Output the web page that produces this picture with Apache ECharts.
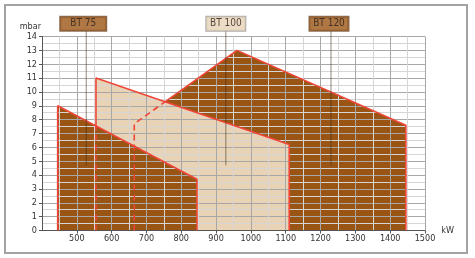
<!DOCTYPE html>
<html><head><meta charset="utf-8">
<script src="https://cdn.jsdelivr.net/npm/echarts@6/dist/echarts.min.js"></script>
<style>html,body{margin:0;padding:0;background:#fff}#c{width:475px;height:258px}</style>
</head><body><div id="c"></div>
<script>
// ---- data ----
const names = ['BT 75', 'BT 100', 'BT 120'];
const bt75 = [[445, 0], [445, 9], [845, 3.7], [845, 0]];
const bt100 = [[555, 0], [555, 11], [1110, 6.2], [1110, 0]];
const bt120 = [[665, 0], [665, 7.7], [960, 13], [1445, 7.6], [1445, 0]];
const pointerKw = [527, 928, 1230];
const pointerBottom = 4.7;
const pointerTop = 14.4;
const labelLevel = 14.92;
const xMin = 400, xMax = 1500, xStep = 100;
const yMin = 0, yMax = 14, yStep = 1;

// ---- helpers ----
function intersect(a, b, c, d) {
  const x1 = a[0], y1 = a[1], x2 = b[0], y2 = b[1], x3 = c[0], y3 = c[1], x4 = d[0], y4 = d[1];
  const den = (x1 - x2) * (y3 - y4) - (y1 - y2) * (x3 - x4);
  const t = ((x1 - x3) * (y3 - y4) - (y1 - y3) * (x3 - x4)) / den;
  return [x1 + t * (x2 - x1), y1 + t * (y2 - y1)];
}
const p1 = intersect(bt100[0], bt100[1], bt75[1], bt75[2]);
const p2 = intersect(bt120[1], bt120[2], bt100[1], bt100[2]);

const BROWN = '#9a5515', BEIGE = '#e9d3b7', RED = '#ef4638';
const FONT = '"Liberation Sans Narrow","DejaVu Sans Condensed","Liberation Sans",Arial,sans-serif';

function fill(data, color, z) {
  return { type: 'line', data: data, symbol: 'none', z: z, silent: true,
    lineStyle: { width: 0 }, areaStyle: { color: color, opacity: 1 } };
}
function outline(data, dashed) {
  return { type: 'line', data: data, symbol: 'none', z: 5, silent: true, clip: false,
    lineStyle: { color: RED, width: 1.6, type: dashed ? [6, 4] : 'solid' } };
}

const series = [
  fill(bt120, BROWN, 1),
  fill(bt100, BEIGE, 2),
  fill(bt75, BROWN, 3),
  outline(bt75, false),
  outline([bt100[0], p1], true),
  outline([p1, bt100[1], bt100[2], bt100[3]], false),
  outline([bt120[0], bt120[1], p2], true),
  outline([p2, bt120[2], bt120[3], bt120[4]], false)
];
pointerKw.forEach(function (kw) {
  series.push({ type: 'line', data: [[kw, pointerBottom], [kw, pointerTop]], symbol: 'none',
    z: 6, clip: false, silent: true, lineStyle: { color: 'rgba(60,40,20,0.55)', width: 1 } });
});
const boxStyles = [
  { bg: BROWN, border: '#6e4a2e', w: 46, off: -3 },
  { bg: BEIGE, border: '#9a9a9a', w: 39, off: 0 },
  { bg: BROWN, border: '#6e4a2e', w: 39, off: -2 }
];
series.push({ type: 'scatter', z: 7, clip: false, silent: true, symbolSize: 1,
  itemStyle: { color: 'rgba(0,0,0,0)' },
  data: names.map(function (n, i) {
    const s = boxStyles[i];
    return { name: n, value: [pointerKw[i], labelLevel],
      label: { show: true, position: 'inside', formatter: n, offset: [s.off, 0],
        backgroundColor: s.bg, borderColor: s.border, borderWidth: 1,
        width: s.w, height: 14, lineHeight: 14, align: 'center', verticalAlign: 'middle',
        padding: 0, color: '#2b2118', fontSize: 10, fontFamily: FONT } };
  })
});

const chart = echarts.init(document.getElementById('c'), null, { renderer: 'canvas' });
chart.setOption({
  animation: false,
  backgroundColor: '#fff',
  graphic: [{ type: 'rect', z: 10, silent: true, shape: { x: 5, y: 5, width: 462, height: 248 },
    style: { fill: 'none', stroke: '#a2a2a2', lineWidth: 2 } }],
  grid: { left: 42, top: 36.5, width: 383, height: 194, containLabel: false },
  xAxis: {
    type: 'value', min: xMin, max: xMax, interval: xStep, z: 4,
    name: 'kW', nameLocation: 'end', nameGap: 11,
    nameTextStyle: { fontSize: 9, color: '#333', fontFamily: FONT, verticalAlign: 'middle', padding: [0, 0, 2, 0] },
    axisLine: { show: true, lineStyle: { color: '#555', width: 1 } },
    axisTick: { show: true, length: 3, lineStyle: { color: '#555' } },
    axisLabel: { showMinLabel: false, margin: 4, fontSize: 9, color: '#333', fontFamily: FONT,
      formatter: function (v) { return String(v); } },
    splitLine: { show: true, lineStyle: { color: '#a8a8a8', width: 1 } },
    minorTick: { show: false, splitNumber: 2 },
    minorSplitLine: { show: true, lineStyle: { color: '#d6d6d6', width: 1 } }
  },
  yAxis: {
    type: 'value', min: yMin, max: yMax, interval: yStep, z: 4,
    name: 'mbar', nameLocation: 'end', nameGap: 5,
    nameTextStyle: { fontSize: 9, color: '#333', fontFamily: FONT, align: 'right', verticalAlign: 'bottom', padding: [0, 1, 0, 0] },
    axisLine: { show: true, lineStyle: { color: '#555', width: 1 } },
    axisTick: { show: true, length: 3, lineStyle: { color: '#555' } },
    axisLabel: { margin: 5, fontSize: 9, color: '#333', fontFamily: FONT,
      formatter: function (v) { return String(v); } },
    splitLine: { show: true, lineStyle: { color: '#a8a8a8', width: 1 } },
    minorTick: { show: false, splitNumber: 2 },
    minorSplitLine: { show: true, lineStyle: { color: '#d6d6d6', width: 1 } }
  },
  series: series
});
</script></body></html>
